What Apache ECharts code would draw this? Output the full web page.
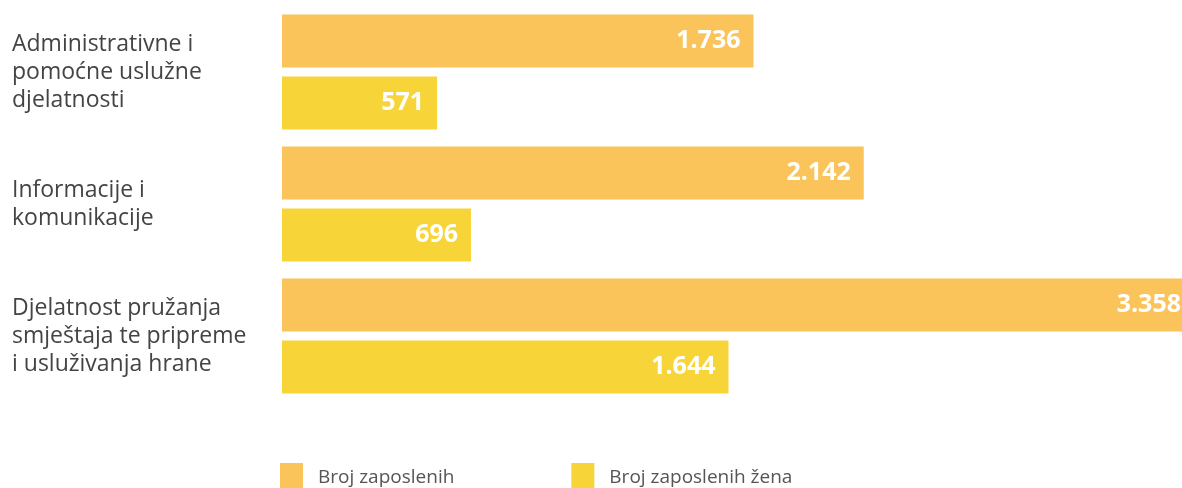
<!DOCTYPE html>
<html>
<head>
<meta charset="utf-8">
<script src="https://cdn.jsdelivr.net/npm/echarts@6/dist/echarts.min.js"></script>
<style>
  html, body { margin: 0; padding: 0; background: #fff; }
  #chart { width: 1182px; height: 488px; }
</style>
</head>
<body>
<div id="chart"></div>
<script>
const categories = [
  'Administrativne i\npomoćne uslužne\ndjelatnosti',
  'Informacije i\nkomunikacije',
  'Djelatnost pružanja\nsmještaja te pripreme\ni usluživanja hrane'
]
const seriesNames = ['Broj zaposlenih', 'Broj zaposlenih žena']
const totalEmployed = [1736, 2142, 3358]
const womenEmployed = [571, 696, 1644]

const chart = echarts.init(document.getElementById('chart'))

// hrvatski zapis: točka kao separator tisućica
const fmt = (v) => String(v).replace(/\B(?=(\d{3})+(?!\d))/g, '.')

const valueLabel = {
  show: true,
  position: 'insideRight',
  distance: 13,
  color: '#fff',
  fontFamily: 'Open Sans',
  fontWeight: 'bold',
  fontSize: 25,
  formatter: (p) => fmt(p.value)
}

const option = {
  animation: false,
  legend: {
    top: 463,
    left: 280,
    padding: 0,
    itemWidth: 23,
    itemHeight: 30,
    itemGap: 117,
    icon: 'rect',
    textStyle: {
      fontFamily: 'Open Sans',
      fontSize: 19,
      color: '#555',
      padding: [0, 0, 0, 10]
    },
    data: seriesNames
  },
  grid: {
    left: 282,
    width: 912,
    top: 6,
    height: 396,
    outerBoundsMode: 'none',
    containLabel: false
  },
  xAxis: {
    type: 'value',
    min: 0,
    max: 3358,
    show: false
  },
  yAxis: {
    type: 'category',
    inverse: true,
    data: categories,
    axisLine: { show: false },
    axisTick: { show: false },
    axisLabel: {
      align: 'left',
      margin: 270,
      fontFamily: 'Open Sans',
      fontSize: 23,
      lineHeight: 28,
      color: '#444'
    }
  },
  series: [
    {
      name: seriesNames[0],
      type: 'bar',
      data: totalEmployed,
      barWidth: 53,
      barGap: '17%',
      itemStyle: { color: '#FAC45A' },
      label: valueLabel
    },
    {
      name: seriesNames[1],
      type: 'bar',
      data: womenEmployed,
      barWidth: 53,
      itemStyle: { color: '#F7D538' },
      label: valueLabel
    }
  ]
}
chart.setOption(option)
</script>
</body>
</html>
